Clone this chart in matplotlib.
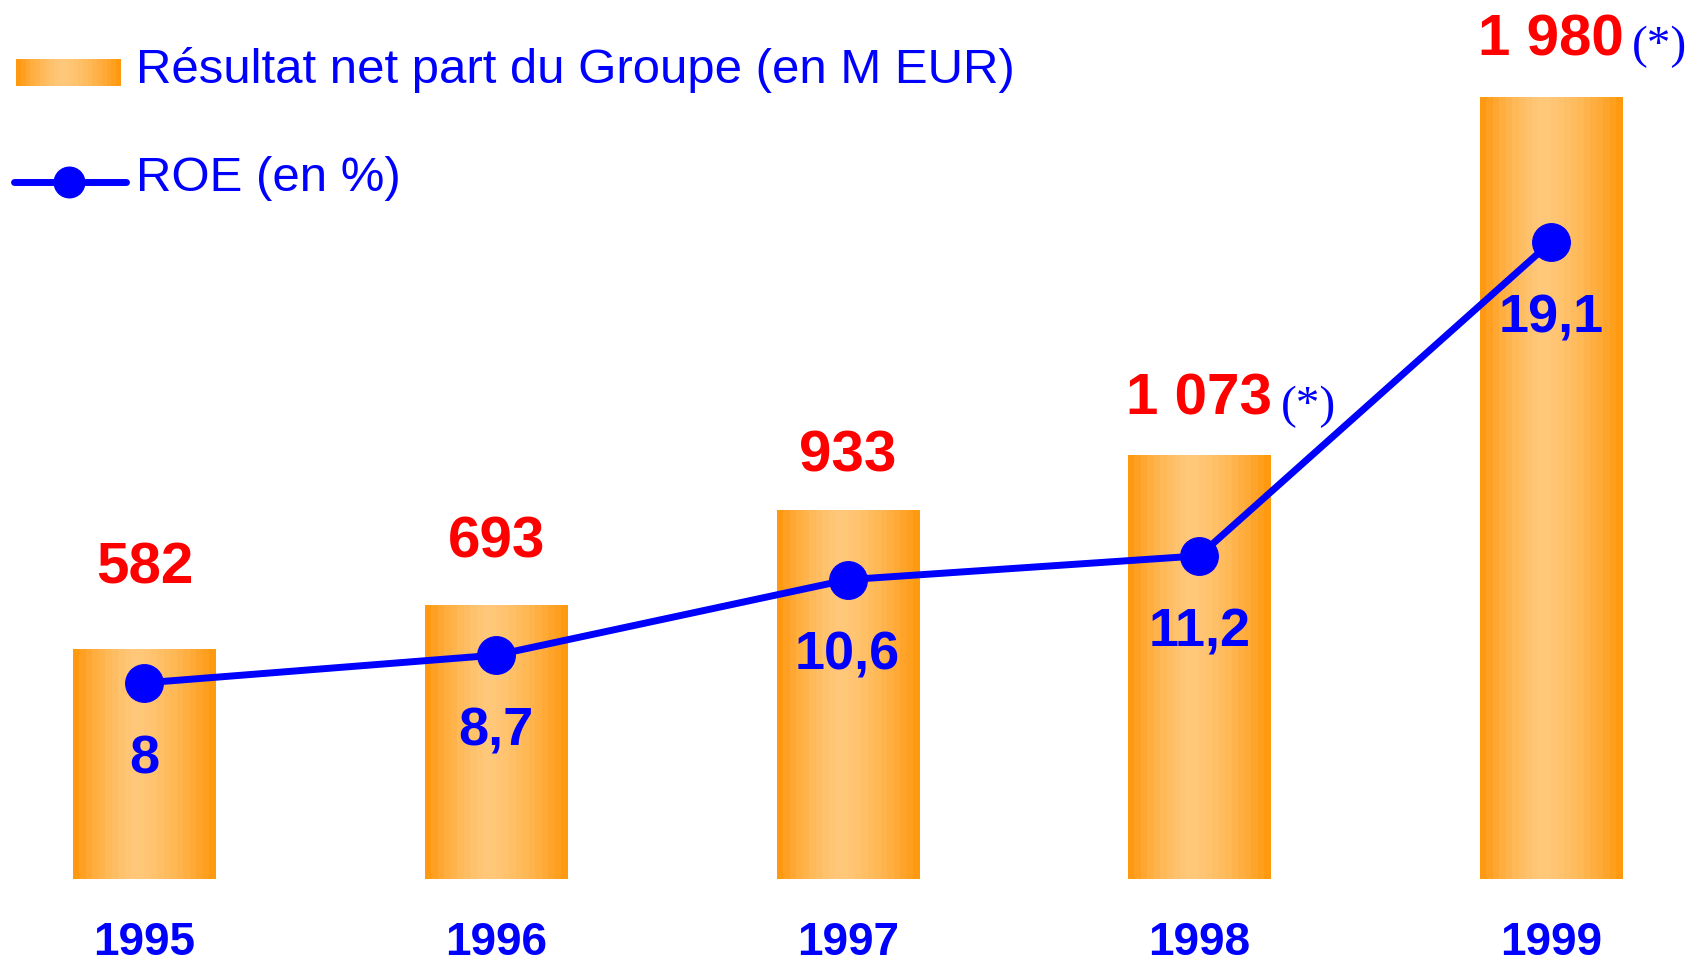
import numpy as np
import matplotlib
matplotlib.use('Agg')
import matplotlib.pyplot as plt
from matplotlib.lines import Line2D

plt.rcParams['font.family'] = ['Liberation Sans', 'DejaVu Sans']

# données
annees = ['1995', '1996', '1997', '1998', '1999']
resultat = [582, 693, 933, 1073, 1980]          # M EUR
roe = [8, 8.7, 10.6, 11.2, 19.1]                # %
etiq_resultat = ['582', '693', '933', '1 073', '1 980']
etiq_roe = ['8', '8,7', '10,6', '11,2', '19,1']
notes = ['', '', '', '(*)', '(*)']

# décalage des étiquettes rouges au-dessus des barres (points)
decal_rouge = [47, 34, 28, 29, 30]

bleu = '#0000FF'
rouge = '#FF0000'

# dégradé orange des barres (foncé aux bords, clair vers le centre)
def degrade(n=22):
    t = (np.arange(n) + 0.5) / n
    d = np.where(t < 0.45, (0.45 - t) / 0.45, (t - 0.45) / 0.55)
    f = 1 - d ** 1.5
    bord = np.array([255, 150, 10]) / 255
    centre = np.array([255, 200, 122]) / 255
    cols = bord[None, :] * (1 - f[:, None]) + centre[None, :] * f[:, None]
    return cols[None, :, :]

grad = degrade()

fig = plt.figure(figsize=(17.03, 9.65), dpi=100)
ax = fig.add_axes([0, 86 / 965, 1, 819 / 965])
x = np.arange(len(annees))

barres = ax.bar(x, resultat, width=0.404, color='none', edgecolor='none')
for p in barres:
    im = ax.imshow(grad, extent=(p.get_x(), p.get_x() + p.get_width(), 0, p.get_height()),
                   aspect='auto', interpolation='nearest', zorder=1)
    im.set_clip_path(p)

ax.set_xlim(-0.411, 4.433)
ax.set_ylim(0, 2073)
for s in ax.spines.values():
    s.set_visible(False)
ax.set_yticks([])
ax.set_xticks(x, annees)
ax.tick_params(axis='x', length=0, pad=30, labelsize=33, labelcolor=bleu)
for lab in ax.get_xticklabels():
    lab.set_fontweight('bold')

# étiquettes résultat
for xi, v, txt, d, n in zip(x, resultat, etiq_resultat, decal_rouge, notes):
    t = ax.annotate(txt, (xi, v), xytext=(0, d), textcoords='offset points',
                    ha='center', va='baseline', fontsize=42, fontweight='bold', color=rouge)
    if n:
        ax.annotate(n, xy=(1, 0), xycoords=t, xytext=(6, -1), textcoords='offset points',
                    ha='left', va='bottom', fontsize=34, color=bleu, family='Liberation Serif')

# ROE
ax2 = ax.twinx()
ax2.plot(x, roe, color=bleu, lw=5, marker='o', markersize=27, zorder=3)
ax2.set_ylim(3.06, 23.69)
ax2.set_xlim(-0.411, 4.433)
ax2.set_yticks([])
for s in ax2.spines.values():
    s.set_visible(False)
for xi, v, txt in zip(x, roe, etiq_roe):
    ax2.annotate(txt, (xi, v), xytext=(0, -65), textcoords='offset points',
                 ha='center', va='baseline', fontsize=39, fontweight='bold', color=bleu)

# légende
lax = fig.add_axes([16 / 1703, 1 - 86 / 965, 105 / 1703, 27 / 965])
lax.imshow(grad, aspect='auto', interpolation='nearest')
lax.axis('off')
fig.text(136 / 1703, 1 - 83 / 965, 'Résultat net part du Groupe (en M EUR)',
         va='baseline', ha='left', fontsize=35.4, color=bleu)
ly = 1 - 182 / 965
fig.add_artist(Line2D([14 / 1703, 69 / 1703, 126 / 1703], [ly, ly, ly], transform=fig.transFigure,
                      color=bleu, lw=5, solid_capstyle='round', marker='o', markersize=22,
                      markevery=[1]))
fig.text(136 / 1703, 1 - 191 / 965, 'ROE (en %)', va='baseline', ha='left',
         fontsize=35.4, color=bleu)

fig.savefig('out.png', dpi=100)
